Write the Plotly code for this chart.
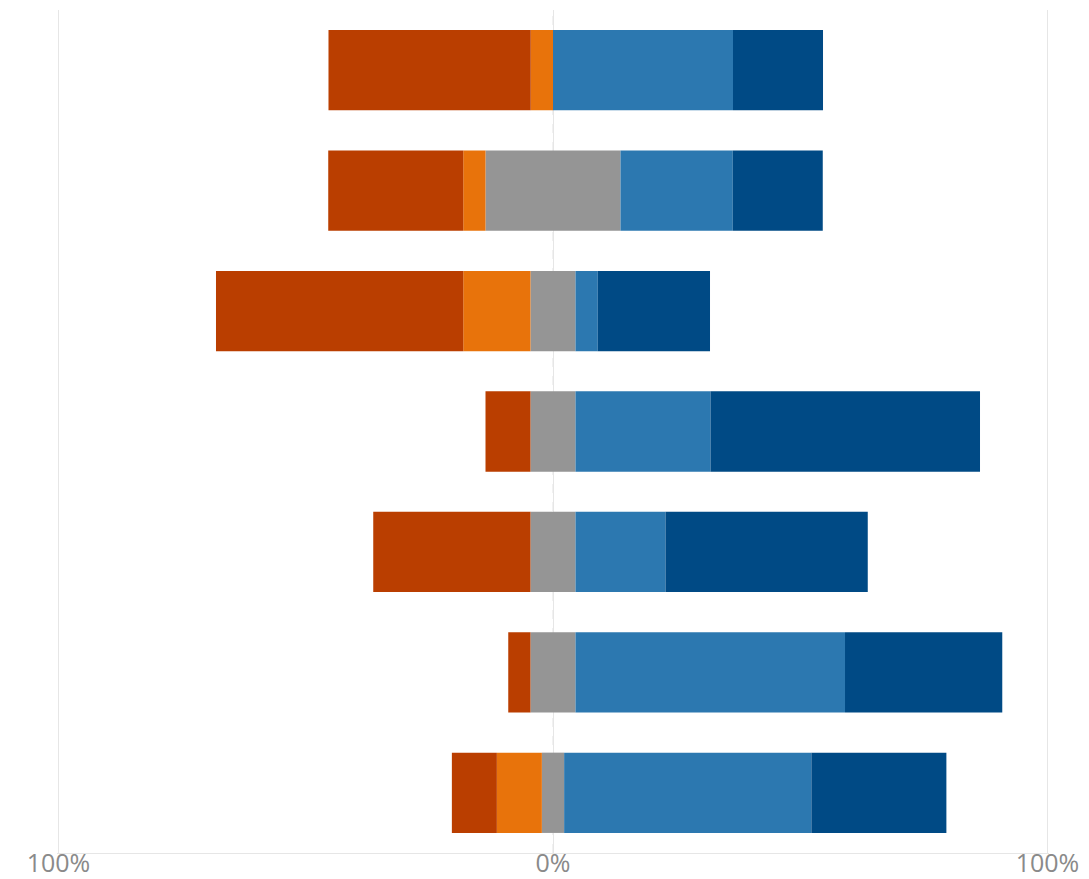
import plotly.graph_objects as go

# Survey items, top to bottom
items = ["Item 1", "Item 2", "Item 3", "Item 4", "Item 5", "Item 6", "Item 7"]

# Share of responses per answer level (percent of 22 respondents)
strongly_disagree = [40.9, 27.3, 50.0, 9.1, 31.8, 4.5, 9.1]
disagree = [4.5, 4.5, 13.6, 0.0, 0.0, 0.0, 9.1]
neutral = [0.0, 27.3, 9.1, 9.1, 9.1, 9.1, 4.5]
agree = [36.4, 22.7, 4.5, 27.3, 18.2, 54.5, 50.0]
strongly_agree = [18.2, 18.2, 22.7, 54.5, 40.9, 31.8, 27.3]

tick_vals = [-100, 0, 100]
tick_text = ["100%", "0%", "100%"]

C_SD = "#BA3E00"
C_D = "#E8730B"
C_N = "#959595"
C_A = "#2C78B0"
C_SA = "#004A85"

fig = go.Figure()

def add(vals, color, sign=1):
    fig.add_trace(go.Bar(
        y=items, x=[sign * v for v in vals], orientation="h",
        marker=dict(color=color, line=dict(width=0)),
        showlegend=False, hoverinfo="x+y",
    ))

# Negative side: neutral half nearest zero, then disagree, strongly disagree
add([v / 2 for v in neutral], C_N, -1)
add(disagree, C_D, -1)
add(strongly_disagree, C_SD, -1)
# Positive side: neutral half, agree, strongly agree
add([v / 2 for v in neutral], C_N, 1)
add(agree, C_A, 1)
add(strongly_agree, C_SA, 1)

# Dashed reference line at 0%
fig.add_shape(type="line", xref="x", yref="paper", x0=0, x1=0, y0=0, y1=1,
              line=dict(color="#E2E2E2", width=1, dash="dash"), layer="below")

fig.update_layout(
    barmode="relative",
    bargap=1 / 3,
    width=1089, height=879,
    margin=dict(l=57, r=40, t=10, b=26),
    paper_bgcolor="white", plot_bgcolor="white",
    font=dict(family="Open Sans, sans-serif", color="#8A8A8A"),
    xaxis=dict(
        range=[-100.3, 100.3], tickvals=tick_vals, ticktext=tick_text,
        showgrid=True, gridcolor="#E6E6E6", gridwidth=1,
        zeroline=False, showline=True, linecolor="#E6E6E6", linewidth=1,
        tickfont=dict(size=25, color="#8A8A8A"), ticks="",
        ticklabelstandoff=-12, automargin=False,
    ),
    yaxis=dict(
        categoryorder="array", categoryarray=items[::-1],
        showticklabels=False, showgrid=False, zeroline=False, showline=False,
        automargin=False,
    ),
)

fig.write_html("out.html")
